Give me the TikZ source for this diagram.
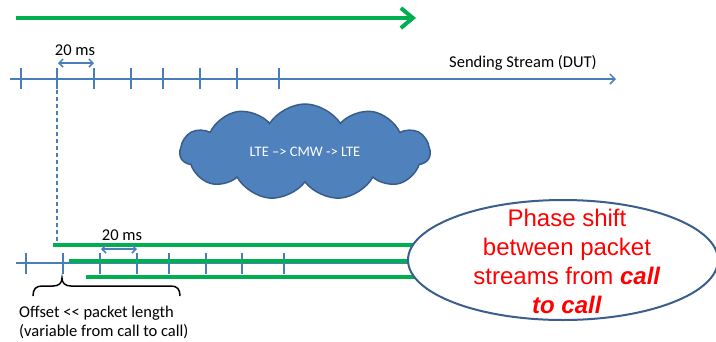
\documentclass[tikz,border=0pt]{standalone}
\usepackage{fontspec}
\setmainfont{Carlito}
\newfontfamily\arialf{Liberation Sans}
\usetikzlibrary{arrows.meta,shapes.symbols,shapes.geometric}
\definecolor{axblue}{HTML}{4A7EBB}
\definecolor{cloudfill}{HTML}{4F81BD}
\definecolor{cloudedge}{HTML}{385D8A}
\definecolor{ggreen}{HTML}{00B050}
\definecolor{elledge}{HTML}{3A5F8C}
\begin{document}
\begin{tikzpicture}[x=1pt,y=-1pt,
  axis/.style={draw=axblue,line width=1.5pt},
  tickmark/.style={draw=axblue,line width=1.5pt},
  greenline/.style={draw=ggreen,line width=3.5pt},
  lbl/.style={font=\fontsize{16.5}{19}\selectfont,inner sep=0pt},
  dimarrow/.style={draw=axblue,line width=1.5pt,{Straight Barb[length=4pt,width=8pt]}-{Straight Barb[length=4pt,width=8pt]}}]
\useasboundingbox (0,0) rectangle (716,341);

% top green arrow
\coordinate (g0) at (16,18);
\coordinate (g1) at (416,18);
\draw[greenline,line width=4pt,-{Straight Barb[length=12pt,width=20pt,line width=4pt]}] (g0) -- (g1);

% top axis
\coordinate (t0) at (10,79);
\coordinate (t1) at (616,79);
\draw[axis,-{Straight Barb[length=5pt,width=10pt]}] (t0) -- (t1);
\foreach \x in {21,57,94,131,163,200,237,279} \draw[tickmark] (\x,68) -- (\x,89);
\coordinate (d0) at (58,63);
\coordinate (d1) at (94,63);
\draw[dimarrow] (d0) -- (d1);
\node[lbl] (ms1) at (75,50) {20 ms};
\node[lbl] (send) at (523,63) {Sending Stream (DUT)};

% dashed line
\coordinate (v0) at (57,90);
\coordinate (v1) at (57,246);
\draw[axblue,line width=1.2pt,dash pattern=on 4pt off 3pt] (v0) -- (v1);

% cloud
\node[cloud, cloud puffs=11, cloud puff arc=115, aspect=2.6, fill=cloudfill, draw=cloudedge,
  line width=1.5pt, minimum width=250pt, minimum height=96pt, text=white,
  font=\fontsize{14.5}{17}\selectfont] (cl) at (305,152) {LTE –> CMW -> LTE};

% bottom axis
\coordinate (b0) at (16,263);
\coordinate (b1) at (450,263);
\draw[axis] (b0) -- (b1);
\foreach \x in {26,63,100,137,169,206,242,284} \draw[tickmark] (\x,253) -- (\x,274);

% green stream lines
\coordinate (s1a) at (53,245);  \coordinate (s1b) at (470,245);
\coordinate (s2a) at (69,261);  \coordinate (s2b) at (470,261);
\coordinate (s3a) at (86,277);  \coordinate (s3b) at (470,277);
\draw[greenline] (s1a) -- (s1b);
\draw[greenline] (s2a) -- (s2b);
\draw[greenline] (s3a) -- (s3b);

\coordinate (e0) at (101,249);
\coordinate (e1) at (137,249);
\draw[dimarrow] (e0) -- (e1);
\node[lbl] (ms2) at (122,235) {20 ms};

% brace
\draw[black,line width=1.5pt] (33,296) .. controls (33,289) and (36,286) .. (42,286) -- (53,286)
  .. controls (59,286) and (62,283) .. (62,278)
  .. controls (62,283) and (65,286) .. (71,286) -- (171,286)
  .. controls (177,286) and (180,289) .. (180,296);

\node[lbl,anchor=west,align=left] (off) at (19,322) {Offset {<}{<} packet length\\(variable from call to call)};

% ellipse
\node[ellipse, draw=elledge, line width=2pt, fill=white, minimum width=310pt, minimum height=120pt] (el) at (563,260) {};
\node[text=red, font=\arialf\fontsize{24}{29}\selectfont, align=center, inner sep=0pt] (ph) at (567,261)
  {Phase shift\\between packet\\streams from \textbf{\textit{call}}\\\textbf{\textit{to call}}};
\end{tikzpicture}
\end{document}
